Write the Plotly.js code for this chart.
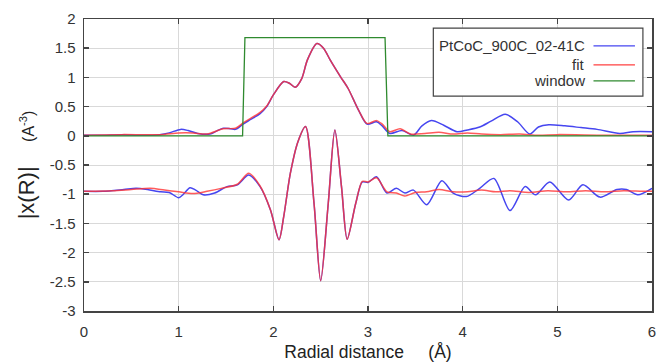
<!DOCTYPE html>
<html>
<head>
<meta charset="utf-8">
<script src="https://cdn.plot.ly/plotly-3.0.1.min.js"></script>
<style>html,body{margin:0;padding:0;background:#fff;}#chart{width:666px;height:362px;}</style>
</head>
<body>
<div id="chart"></div>
<script>
// |chi(R)| of data (blue, upper)
const rMagData = [0, 0.2, 0.4, 0.6, 0.8, 0.9, 1.02, 1.1, 1.2, 1.33, 1.4, 1.47, 1.55, 1.6, 1.68, 1.76, 1.86, 1.93, 2.0, 2.11, 2.17, 2.23, 2.3, 2.36, 2.46, 2.53, 2.6, 2.71, 2.79, 2.9, 2.99, 3.09, 3.15, 3.23, 3.36, 3.48, 3.57, 3.67, 3.8, 3.94, 4.05, 4.18, 4.3, 4.45, 4.58, 4.71, 4.8, 4.91, 5.08, 5.25, 5.42, 5.66, 5.8, 6.0];
const magData  = [0.01, 0.01, 0.02, 0.01, 0.02, 0.05, 0.11, 0.09, 0.04, 0.03, 0.08, 0.13, 0.12, 0.11, 0.2, 0.28, 0.38, 0.5, 0.7, 0.93, 0.9, 0.83, 0.98, 1.3, 1.58, 1.5, 1.3, 1.01, 0.81, 0.44, 0.2, 0.24, 0.17, 0.04, 0.09, 0.01, 0.17, 0.26, 0.18, 0.07, 0.1, 0.15, 0.25, 0.37, 0.24, 0.03, 0.15, 0.19, 0.17, 0.14, 0.11, 0.04, 0.07, 0.07];
// |chi(R)| of fit (red, upper)
const rMagFit = [0, 0.4, 0.8, 1.0, 1.15, 1.3, 1.47, 1.6, 1.68, 1.76, 1.86, 1.93, 2.0, 2.11, 2.17, 2.23, 2.3, 2.36, 2.46, 2.53, 2.6, 2.71, 2.79, 2.9, 2.99, 3.09, 3.15, 3.23, 3.34, 3.45, 3.6, 3.75, 3.9, 4.05, 4.2, 4.4, 4.6, 4.8, 5.0, 5.5, 6.0];
const magFit  = [0.01, 0.02, 0.02, 0.05, 0.05, 0.03, 0.12, 0.13, 0.22, 0.3, 0.4, 0.51, 0.7, 0.93, 0.9, 0.83, 0.98, 1.3, 1.58, 1.5, 1.3, 1.01, 0.81, 0.44, 0.21, 0.26, 0.2, 0.07, 0.12, 0.03, 0.04, 0.06, 0.03, 0.05, 0.03, 0.02, 0.03, 0.01, 0.02, 0.01, 0.01];
// Re chi(R) of data, offset (blue, lower)
const rReData = [0, 0.2, 0.42, 0.55, 0.67, 0.81, 0.9, 1.0, 1.05, 1.12, 1.18, 1.26, 1.38, 1.51, 1.62, 1.74, 1.86, 1.97, 2.06, 2.11, 2.18, 2.26, 2.34, 2.43, 2.5, 2.58, 2.65, 2.72, 2.78, 2.87, 2.94, 3.0, 3.09, 3.2, 3.3, 3.39, 3.48, 3.62, 3.78, 3.9, 4.04, 4.18, 4.33, 4.5, 4.66, 4.77, 4.92, 5.12, 5.27, 5.45, 5.63, 5.73, 5.85, 6.0];
const reData  = [-0.95, -0.95, -0.92, -0.9, -0.92, -0.96, -0.97, -1.06, -1.0, -0.89, -0.93, -1.01, -0.98, -0.87, -0.84, -0.67, -0.87, -1.27, -1.78, -1.38, -0.64, -0.1, 0.16, -1.16, -2.48, -1.16, 0.1, -0.87, -1.77, -1.16, -0.79, -0.8, -0.7, -0.98, -0.9, -0.98, -0.93, -1.18, -0.77, -0.98, -1.04, -0.9, -0.73, -1.28, -0.87, -1.01, -0.79, -1.1, -0.84, -1.05, -0.92, -0.92, -1.01, -0.9];
// Re chi(R) of fit, offset (red, lower)
const rReFit = [0, 0.3, 0.5, 0.7, 0.85, 1.0, 1.15, 1.3, 1.45, 1.62, 1.74, 1.86, 1.97, 2.06, 2.11, 2.18, 2.26, 2.34, 2.43, 2.5, 2.58, 2.65, 2.72, 2.78, 2.87, 2.94, 3.0, 3.09, 3.2, 3.3, 3.39, 3.5, 3.62, 3.75, 3.9, 4.05, 4.2, 4.35, 4.5, 4.7, 4.9, 5.1, 5.3, 5.5, 5.7, 5.9, 6.0];
const reFit  = [-0.95, -0.94, -0.92, -0.9, -0.93, -0.96, -0.99, -0.95, -0.9, -0.83, -0.64, -0.86, -1.27, -1.78, -1.38, -0.64, -0.1, 0.16, -1.16, -2.48, -1.16, 0.1, -0.87, -1.77, -1.16, -0.78, -0.79, -0.72, -0.96, -0.98, -1.03, -0.97, -0.96, -0.92, -0.96, -0.96, -0.93, -0.96, -0.94, -0.97, -0.94, -0.96, -0.94, -0.96, -0.94, -0.95, -0.95];
// Fourier window
const rWindow = [0, 1.675, 1.7, 3.18, 3.21, 6.0];
const window_ = [0, 0, 1.68, 1.68, 0, 0];

const xTickVals = [0, 1, 2, 3, 4, 5, 6];
const xTickText = ['0', '1', '2', '3', '4', '5', '6'];
const yTickVals = [-3, -2.5, -2, -1.5, -1, -0.5, 0, 0.5, 1, 1.5, 2];
const yTickText = ['-3', '-2.5', '-2', '-1.5', '-1', '-0.5', '0', '0.5', '1', '1.5', '2'];
const legendNames = ['PtCoC_900C_02-41C', 'fit', 'window'];

const BLUE = '#4646f0';
const RED = 'rgba(255,50,50,0.8)';
const GREEN = '#2f8a2f';

const traces = [
  {x: rMagData, y: magData, mode: 'lines', name: legendNames[0], line: {color: BLUE, width: 1.5, shape: 'spline', smoothing: 0.8}},
  {x: rReData, y: reData, mode: 'lines', name: legendNames[0], showlegend: false, line: {color: BLUE, width: 1.5, shape: 'spline', smoothing: 0.8}},
  {x: rMagFit, y: magFit, mode: 'lines', name: legendNames[1], line: {color: RED, width: 1.5, shape: 'spline', smoothing: 0.8}},
  {x: rReFit, y: reFit, mode: 'lines', name: legendNames[1], showlegend: false, line: {color: RED, width: 1.5, shape: 'spline', smoothing: 0.8}},
  {x: rWindow, y: window_, mode: 'lines', name: legendNames[2], line: {color: GREEN, width: 1.3}}
];

const FONT = 'Liberation Sans, Arial, sans-serif';
const axisCommon = {
  showgrid: true, gridcolor: '#d9d9d9', gridwidth: 1,
  showline: true, linecolor: '#444', linewidth: 1.5, mirror: 'ticks',
  ticks: 'inside', ticklen: 5, tickwidth: 1.5, tickcolor: '#444',
  zeroline: false, tickfont: {family: FONT, size: 15, color: '#333'}
};

// custom legend (text right-aligned, sample line on the right)
const legX0 = 0.615, legX1 = 0.984, legY0 = 0.736, legY1 = 0.969;
const legRowsY = [0.908, 0.843, 0.788];
const legColors = [BLUE, '#ff4040', GREEN];
const shapes = [{type: 'rect', xref: 'paper', yref: 'paper', x0: legX0, x1: legX1, y0: legY0, y1: legY1,
  fillcolor: '#fff', line: {color: '#444', width: 1.2}, layer: 'above'}];
const annotations = [];
legendNames.forEach((n, i) => {
  shapes.push({type: 'line', xref: 'paper', yref: 'paper', x0: 0.897, x1: 0.97, y0: legRowsY[i], y1: legRowsY[i],
    line: {color: legColors[i], width: 1.3}, layer: 'above'});
  annotations.push({xref: 'paper', yref: 'paper', x: 0.885, y: legRowsY[i], xanchor: 'right', yanchor: 'middle',
    text: n, showarrow: false, font: {family: FONT, size: 15, color: '#333'}});
});

const layout = {
  width: 666, height: 362,
  margin: {l: 83.5, r: 14, t: 19, b: 51},
  paper_bgcolor: '#fff', plot_bgcolor: '#fff',
  showlegend: false,
  xaxis: Object.assign({}, axisCommon, {range: [0, 6], tickvals: xTickVals, ticktext: xTickText, ticklabelstandoff: 6,
    title: {text: 'Radial distance\u00a0\u00a0\u00a0\u00a0\u00a0(Å)', font: {family: FONT, size: 17.5, color: '#222'}, standoff: 9}}),
  yaxis: Object.assign({}, axisCommon, {range: [-3, 2], tickvals: yTickVals, ticktext: yTickText, ticklabelstandoff: 4,
    title: {text: '|x(R)|\u00a0\u00a0\u00a0\u00a0<span style="font-size:16px">(A<sup>-3</sup>)</span>', font: {family: FONT, size: 22, color: '#222'}, standoff: 9}}),
  shapes: shapes,
  annotations: annotations
};

Plotly.newPlot('chart', traces, layout, {displayModeBar: false, staticPlot: true});
</script>
</body>
</html>
